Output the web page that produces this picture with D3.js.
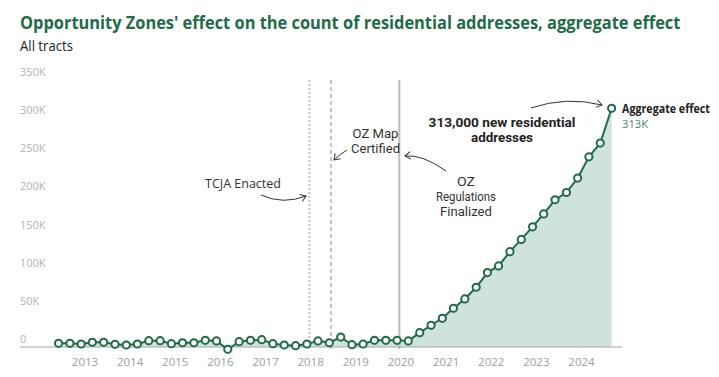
<!DOCTYPE html>
<html>
<head>
<meta charset="utf-8">
<script src="https://cdn.jsdelivr.net/npm/d3@7"></script>
<style>
    body { margin: 0; background: #fff; }
    svg text { font-family: "Open Sans", sans-serif; }
    svg text.note { font-family: Roboto, "Open Sans", sans-serif; }
</style>
</head>
<body>
<div id="chart"></div>
<script>
// quarterly observations (first of month)
const dates = [
    "2012-06", "2012-09", "2012-12",
    "2013-03", "2013-06", "2013-09", "2013-12",
    "2014-03", "2014-06", "2014-09", "2014-12",
    "2015-03", "2015-06", "2015-09", "2015-12",
    "2016-03", "2016-06", "2016-09", "2016-12",
    "2017-03", "2017-06", "2017-09", "2017-12",
    "2018-03", "2018-06", "2018-09", "2018-12",
    "2019-03", "2019-06", "2019-09", "2019-12",
    "2020-03", "2020-06", "2020-09", "2020-12",
    "2021-03", "2021-06", "2021-09", "2021-12",
    "2022-03", "2022-06", "2022-09", "2022-12",
    "2023-03", "2023-06", "2023-09", "2023-12",
    "2024-03", "2024-06", "2024-09"
];

// aggregate effect, residential addresses
const values = [
    4800, 4800, 3900,
    6200, 6200, 3500, 2600,
    3900, 8300, 8300, 4300,
    5600, 5600, 8700, 8000,
    -3000, 7000, 8700, 9600,
    4300, 2600, 1700, 3900,
    8000, 5600, 13000, 3000,
    3900, 8700, 8700, 8700,
    8000, 18800, 28500, 37600,
    50800, 63000, 78300, 97500,
    106300, 125000, 141000, 157500,
    174500, 193000, 202500, 221400,
    249300, 267300, 313000
];

const yTicks = [0, 50000, 100000, 150000, 200000, 250000, 300000, 350000];
const yTickLabels = ["0", "50K", "100K", "150K", "200K", "250K", "300K", "350K"];
const xYears = [2013, 2014, 2015, 2016, 2017, 2018, 2019, 2020, 2021, 2022, 2023, 2024];

const events = [
    {date: "2017-12-22", style: "dotted"},
    {date: "2018-06-14", style: "dashed"},
    {date: "2019-12-19", style: "solid"}
];

const W = 719, H = 377;
const green = "#1f6b4a";
const parse = d3.timeParse("%Y-%m");
const parseDay = d3.timeParse("%Y-%m-%d");

let data = dates.map((d, i) => ({date: parse(d), value: values[i]}));

let svg = d3.select("#chart").append("svg")
    .attr("width", W)
    .attr("height", H);

let x = d3.scaleTime()
    .domain([new Date(2013, 0, 1), new Date(2024, 0, 1)])
    .range([85, 581.5]);

let y = d3.scaleLinear()
    .domain([0, 350000])
    .range([347, 80]);

// the reference font is narrower: squeeze a text horizontally to a width
function addText(xPos, yPos, str, width, attrs) {
    let t = svg.append("text")
        .attr("x", 0)
        .attr("y", 0)
        .text(str);
    Object.keys(attrs).forEach(k => t.attr(k, attrs[k]));
    let k = width ? width / t.node().getComputedTextLength() : 1;
    t.attr("transform", `translate(${xPos},${yPos}) scale(${k},1)`);
    return t;
}

// markers
let defs = svg.append("defs");
defs.append("marker")
    .attr("id", "arrow")
    .attr("markerUnits", "userSpaceOnUse")
    .attr("viewBox", "-7 -5 8 10")
    .attr("markerWidth", 8)
    .attr("markerHeight", 10)
    .attr("refX", 0)
    .attr("refY", 0)
    .attr("orient", "auto")
    .append("path")
    .attr("d", "M-5.5,-3.8 L0,0 L-5.5,3.8")
    .attr("fill", "none")
    .attr("stroke", "#333")
    .attr("stroke-width", 1);

// title
addText(20, 28.5, "Opportunity Zones' effect on the count of residential addresses, aggregate effect", 661,
    {"font-size": "18.5px", "font-weight": 700, "fill": green});

addText(20, 51, "All tracts", 53, {"font-size": "14px", "fill": "#222"});

// y labels (sit above the value)
svg.append("g")
    .selectAll("text")
    .data(yTicks)
    .enter()
    .append("text")
    .attr("x", 20)
    .attr("y", d => y(d) - 4)
    .attr("font-size", "11px")
    .attr("fill", "#b3b3b3")
    .text((d, i) => yTickLabels[i]);

// area + line
let area = d3.area()
    .x(d => x(d.date))
    .y0(y(0))
    .y1(d => y(d.value));

svg.append("path")
    .datum(data)
    .attr("d", area)
    .attr("fill", "#cfe3db");

// event lines
events.forEach(e => {
    let ex = x(parseDay(e.date));
    svg.append("line")
        .attr("x1", ex).attr("x2", ex)
        .attr("y1", y(350000)).attr("y2", y(0) + 2)
        .attr("stroke", e.style === "solid" ? "#bdbdbd" : "#c4c4c4")
        .attr("stroke-width", 2)
        .attr("stroke-dasharray", e.style === "dotted" ? "2,2" : e.style === "dashed" ? "4,3" : null);
});

// baseline
svg.append("line")
    .attr("x1", 20).attr("x2", 622)
    .attr("y1", y(0)).attr("y2", y(0))
    .attr("stroke", "#a6a6a6")
    .attr("stroke-width", 1);

let line = d3.line()
    .x(d => x(d.date))
    .y(d => y(d.value));

svg.append("path")
    .datum(data)
    .attr("d", line)
    .attr("fill", "none")
    .attr("stroke", green)
    .attr("stroke-width", 2);

svg.append("g")
    .selectAll("circle")
    .data(data)
    .enter()
    .append("circle")
    .attr("cx", d => x(d.date))
    .attr("cy", d => y(d.value))
    .attr("r", 3.6)
    .attr("fill", "#fff")
    .attr("stroke", green)
    .attr("stroke-width", 2);

// x labels
svg.append("g")
    .selectAll("text")
    .data(xYears)
    .enter()
    .append("text")
    .attr("x", d => x(new Date(d, 0, 1)))
    .attr("y", 366)
    .attr("text-anchor", "middle")
    .attr("font-size", "11.5px")
    .attr("fill", "#9e9e9e")
    .text(d => d);

// annotations, one text per line
function label(lines, xPos, yPos, opts) {
    lines.forEach((l, i) => {
        addText(xPos, yPos + i * (opts.lh || 15), l, opts.widths[i], {
            "class": lines.length > 1 ? "note" : null,
            "text-anchor": opts.anchor || "middle",
            "font-size": opts.size || "12.5px",
            "font-weight": opts.weight || 400,
            "fill": opts.fill || "#333"
        });
    });
}

function arrow(p0, c, p1) {
    let p = d3.path();
    p.moveTo(p0[0], p0[1]);
    p.quadraticCurveTo(c[0], c[1], p1[0], p1[1]);
    svg.append("path")
        .attr("d", p.toString())
        .attr("fill", "none")
        .attr("stroke", "#333")
        .attr("stroke-width", 1)
        .attr("marker-end", "url(#arrow)");
}

label(["TCJA Enacted"], 243, 188, {widths: [76]});
arrow([261, 195], [283, 205], [306, 196]);

label(["OZ Map", "Certified"], 375.5, 138, {size: "12.8px", widths: [46, 49]});
arrow([347, 150], [340, 154], [334, 160]);

label(["OZ", "Regulations", "Finalized"], 466, 186, {size: "12.8px", widths: [18, 60, 52]});
arrow([446, 171], [422, 154], [405, 156]);

label(["313,000 new residential", "addresses"], 502, 127, {weight: 700, size: "12.4px", fill: "#222", lh: 14.5, widths: [147, 62]});
arrow([531, 108], [566, 96], [602, 105]);

label(["Aggregate effect"], 622, 113, {anchor: "start", weight: 700, size: "12px", fill: "#222", widths: [88]});
label(["313K"], 622, 128, {anchor: "start", size: "11.5px", fill: "#3c8c6c", widths: [26]});
</script>
</body>
</html>
